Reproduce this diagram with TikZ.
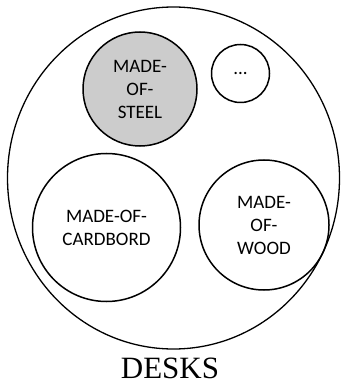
\documentclass[tikz,border=0pt]{standalone}
\usepackage{fontspec}
\setmainfont{Liberation Serif}
\newfontfamily\setfont{Carlito}
\usetikzlibrary{shapes.geometric,positioning}
\tikzset{
  setboundary/.style={draw=black, line width=1.3pt, ellipse,
    minimum width=332pt, minimum height=342pt, inner sep=0pt},
  subset/.style={draw=black, line width=1.5pt, circle, inner sep=0pt,
    font=\setfont\fontsize{19}{23}\selectfont, align=center},
  setlabel/.style={font=\fontsize{31}{33}\selectfont, inner sep=0pt},
}

\begin{document}
\begin{tikzpicture}[x=1pt, y=-1pt]
\useasboundingbox (0,0) rectangle (340,387);

\node[setboundary] (desks) at (173.5, 178) {};
\node[setlabel, anchor=base] (desks_lbl) at (170, 378) {DESKS};

%% subsets
\node[subset, fill=gray!40, minimum size=114pt] (sub_steel) at (140, 89)
  {MADE-\\OF-\\STEEL};
\node[subset, minimum size=58pt] (sub_more) at (240.5, 73.5) {...};
\node[subset, minimum size=148pt] (sub_card) at (106.5, 227.5)
  {MADE-OF-\\CARDBORD};
\node[subset, minimum size=130pt] (sub_wood) at (264, 225)
  {MADE-\\OF-\\WOOD};
\end{tikzpicture}
\end{document}
